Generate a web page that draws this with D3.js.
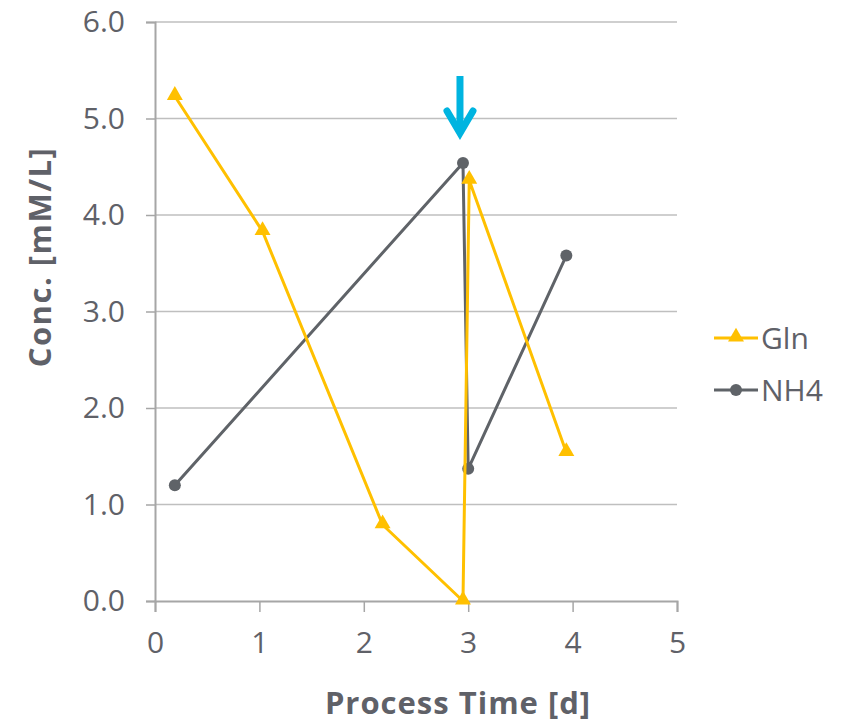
<!DOCTYPE html>
<html>
<head>
<meta charset="utf-8">
<script src="https://cdn.jsdelivr.net/npm/d3@7"></script>
<style>
  html, body { margin: 0; padding: 0; background: #fff; }
  svg text { font-family: "Open Sans", "Noto Sans", sans-serif; fill: #5f6168; }
</style>
</head>
<body>
<svg id="chart" width="850" height="723"></svg>
<script>
// Process time (days) and concentrations (mM/L)
const glnTime = [0.19, 1.03, 2.18, 2.95, 3.01, 3.94];
const glnConc = [5.23, 3.83, 0.79, 0.00, 4.36, 1.54];
const nh4Time = [0.19, 2.95, 3.00, 3.94];
const nh4Conc = [1.20, 4.54, 1.37, 3.58];
const xTicks = [0, 1, 2, 3, 4, 5];
const yTicks = [0, 1, 2, 3, 4, 5, 6];
const feedTime = 2.95;   // feed event marked by the arrow
const seriesNames = ["Gln", "NH4"];

const GLN = "#ffc000", NH4 = "#5f6368", AXIS = "#a6a6a6", GRID = "#bfbfbf", ARROW = "#00b4e0";
const TEXT = "#5f6168";

const svg = d3.select("#chart");
const plotLeft = 155, plotRight = 677, plotTop = 22, plotBottom = 601;

const x = d3.scaleLinear().domain([0, 5]).range([plotLeft, plotRight]);
const y = d3.scaleLinear().domain([0, 6]).range([plotBottom, plotTop]);

// gridlines
svg.append("g").selectAll("line").data(yTicks.filter(d => d > 0)).join("line")
  .attr("x1", plotLeft).attr("x2", plotRight)
  .attr("y1", d => y(d)).attr("y2", d => y(d))
  .attr("stroke", GRID).attr("stroke-width", 1.5);

// y axis
const yAxis = svg.append("g").attr("transform", `translate(${plotLeft},0)`)
  .call(d3.axisLeft(y).tickValues(yTicks).tickFormat(d3.format(".1f")).tickSize(9).tickPadding(21));
yAxis.select(".domain").attr("stroke", AXIS).attr("stroke-width", 2);
yAxis.selectAll(".tick line").attr("stroke", AXIS).attr("stroke-width", 1.5);
yAxis.selectAll(".tick text").style("font-size", "30px").attr("fill", TEXT);

// x axis
const xAxis = svg.append("g").attr("transform", `translate(0,${plotBottom})`)
  .call(d3.axisBottom(x).tickValues(xTicks).tickFormat(d3.format("d")).tickSize(11).tickPadding(20));
xAxis.select(".domain").attr("stroke", AXIS).attr("stroke-width", 2);
xAxis.selectAll(".tick line").attr("stroke", AXIS).attr("stroke-width", 1.5);
xAxis.selectAll(".tick text").style("font-size", "30px").attr("fill", TEXT);

// axis titles
svg.append("text").attr("x", 458).attr("y", 714).attr("text-anchor", "middle")
  .style("font-size", "31px").style("font-weight", "bold").style("letter-spacing", "1px")
  .text("Process Time [d]");
svg.append("text").attr("transform", "translate(51,257) rotate(-90)").attr("text-anchor", "middle")
  .style("font-size", "31px").style("font-weight", "bold").style("letter-spacing", "1.5px")
  .text("Conc. [mM/L]");

const line = d3.line().x(d => x(d[0])).y(d => y(d[1]));
const glnData = glnTime.map((t, i) => [t, glnConc[i]]);
const nh4Data = nh4Time.map((t, i) => [t, nh4Conc[i]]);

const tri = d3.symbol().type(d3.symbolTriangle).size(110);

// NH4 series
svg.append("path").datum(nh4Data).attr("d", line)
  .attr("fill", "none").attr("stroke", NH4).attr("stroke-width", 3).attr("stroke-linejoin", "round");
svg.append("g").selectAll("circle").data(nh4Data).join("circle")
  .attr("cx", d => x(d[0])).attr("cy", d => y(d[1])).attr("r", 6).attr("fill", NH4);

// Gln series
svg.append("path").datum(glnData).attr("d", line)
  .attr("fill", "none").attr("stroke", GLN).attr("stroke-width", 3).attr("stroke-linejoin", "round");
svg.append("g").selectAll("path").data(glnData).join("path")
  .attr("d", tri).attr("transform", d => `translate(${x(d[0])},${y(d[1]) - 1})`).attr("fill", GLN);

// feed arrow
const ax = x(feedTime) - 3;
svg.append("line").attr("x1", ax).attr("x2", ax).attr("y1", 76).attr("y2", 132)
  .attr("stroke", ARROW).attr("stroke-width", 7);
svg.append("path").attr("d", `M${ax - 13},111 L${ax},133 L${ax + 13},111`)
  .attr("fill", "none").attr("stroke", ARROW).attr("stroke-width", 7)
  .attr("stroke-linecap", "round").attr("stroke-linejoin", "miter");

// legend
const legend = svg.append("g");
const legendY = [338, 390];
const colors = [GLN, NH4];
seriesNames.forEach((name, i) => {
  const g = legend.append("g").attr("transform", `translate(0,${legendY[i]})`);
  g.append("line").attr("x1", 714).attr("x2", 758).attr("stroke", colors[i]).attr("stroke-width", 3);
  if (i === 0) g.append("path").attr("d", tri).attr("transform", "translate(736,-1)").attr("fill", GLN);
  else g.append("circle").attr("cx", 736).attr("r", 6).attr("fill", NH4);
  g.append("text").attr("x", 761).attr("y", 11).style("font-size", "30px").text(name);
});
</script>
</body>
</html>
